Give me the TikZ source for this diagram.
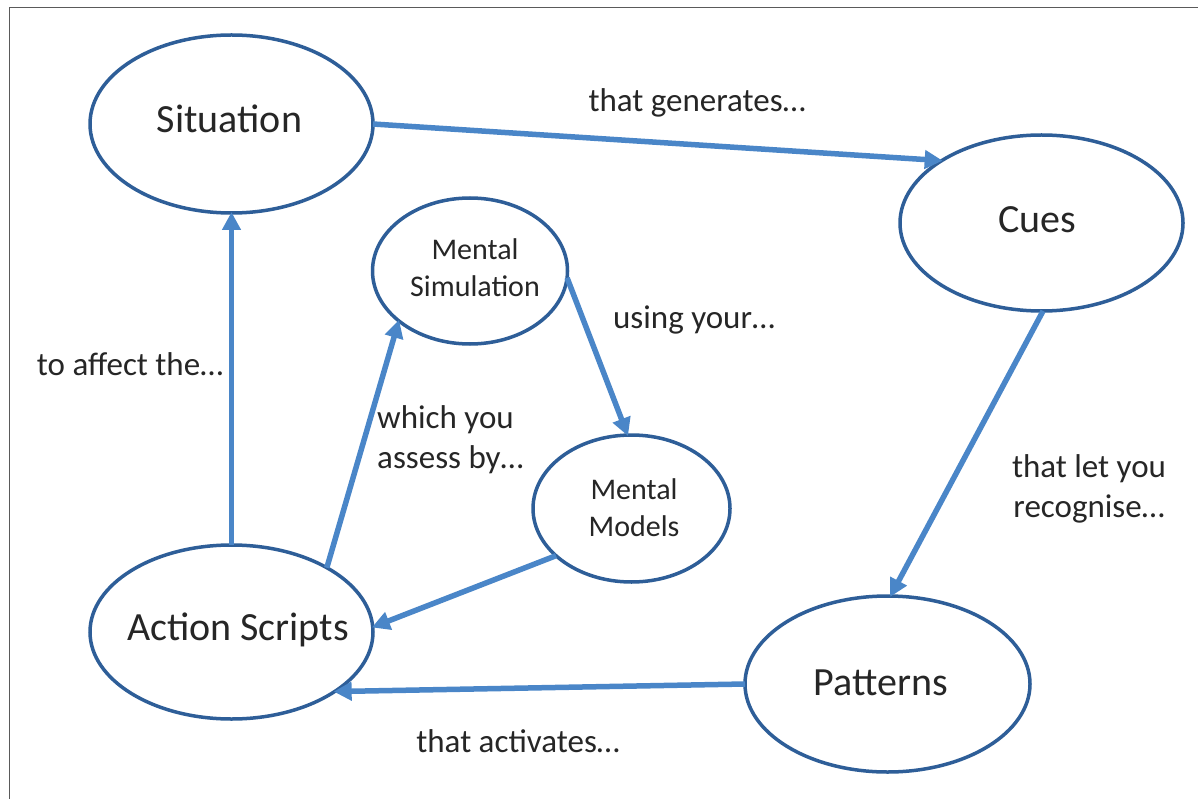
\documentclass[tikz,border=0pt]{standalone}
\usepackage{fontspec}
\setmainfont{Carlito}
\usetikzlibrary{shapes.geometric,arrows.meta}
\definecolor{rim}{HTML}{2E5E98}
\definecolor{flow}{HTML}{4A86C8}
\definecolor{ink}{HTML}{262626}
\definecolor{frame}{HTML}{5A5A5A}
\tikzset{
  bubble/.style={ellipse, draw=rim, line width=3.5pt, inner sep=0pt, outer sep=0pt},
  bigtext/.style={text=ink, inner sep=0pt, anchor=base, font=\fontsize{40}{48}\selectfont},
  midtext/.style={text=ink, inner sep=0pt, anchor=base, align=center, font=\fontsize{30}{37}\selectfont},
  note/.style={text=ink, inner sep=0pt, anchor=base, font=\fontsize{33}{40}\selectfont},
  link/.style={draw=flow, line width=5.5pt, -{Triangle[length=18pt,width=18pt]}, shorten >=-1pt}
}
\begin{document}
\begin{tikzpicture}[x=1pt,y=-1pt]
\useasboundingbox (0,0) rectangle (1198,799);
\fill[white] (0,0) rectangle (1198,799);
% frame edges
\draw[frame, line width=1.5pt] (9.5,799) -- (9.5,7.5) -- (1198,7.5);

% ellipses
\node[bubble, minimum width=283pt, minimum height=178pt] (sit) at (231.5,124) {};
\node[bubble, minimum width=283pt, minimum height=176pt] (cues) at (1041.5,223) {};
\node[bubble, minimum width=195pt, minimum height=146pt] (sim) at (470,271) {};
\node[bubble, minimum width=197pt, minimum height=147pt] (mod) at (631.5,508.5) {};
\node[bubble, minimum width=283pt, minimum height=174pt] (act) at (231.5,632) {};
\node[bubble, minimum width=285pt, minimum height=176pt] (pat) at (887.5,684) {};

% ellipse texts (multi-line nodes sit on their last baseline)
\node[bigtext] (sitT) at (229.5,133) {Situation};
\node[bigtext] (cuesT) at (1037,233) {Cues};
\node[bigtext] (actT) at (238,640) {Action Scripts};
\node[bigtext] (patT) at (881,695) {Patterns};
\node[midtext] (simT) at (475,297) {Mental\\Simulation};
\node[midtext] (modT) at (634,536) {Mental\\Models};

% connectors
\draw[link] (sit.0) -- (cues.148);
\draw[link] (act.north) -- (sit.south);
\draw[link] (act.34) -- (sim.215);
\draw[link] (sim.-4) -- (mod.93);
\draw[link] (mod.212) -- (act.2);
\draw[link] (cues.271) -- (pat.88);
\draw[link] (pat.180) -- (act.-30);

% connector notes
\node[note] (n1) at (697,111.5) {that generates\ldots};
\node[note] (n2) at (694,328) {using your\ldots};
\node[note] (n3) at (130,375) {to affect the\ldots};
\node[note, anchor=base west, align=left] (n4) at (377,468) {which you\\assess by\ldots};
\node[note, align=center] (n5) at (1089,517) {that let you\\recognise\ldots};
\node[note] (n6) at (518,752) {that activates\ldots};
\end{tikzpicture}
\end{document}
